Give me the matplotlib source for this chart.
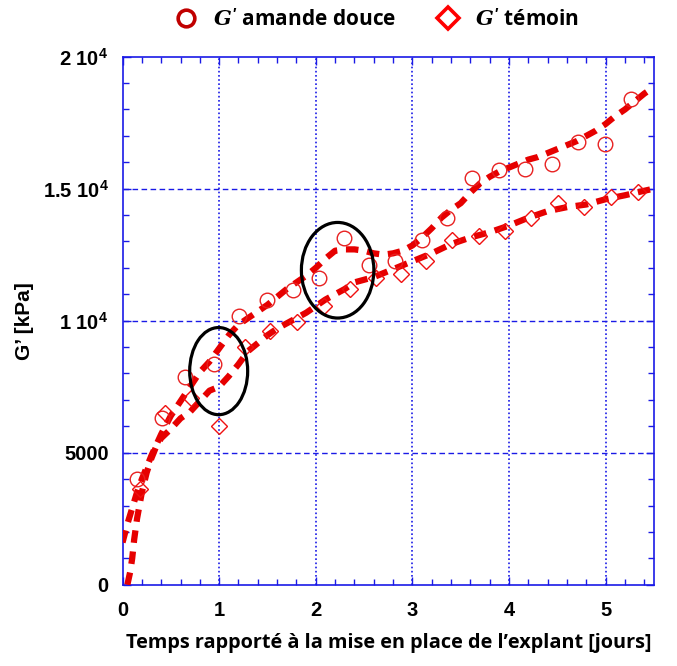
import numpy as np
import matplotlib
matplotlib.use('Agg')
import matplotlib.pyplot as plt
from matplotlib.lines import Line2D
from matplotlib.patches import Ellipse
from matplotlib.ticker import MultipleLocator, FixedLocator

plt.rcParams['mathtext.fontset'] = 'custom'
plt.rcParams['mathtext.it'] = 'DejaVu Serif:italic:bold'
plt.rcParams['mathtext.bf'] = 'Liberation Sans:bold'
plt.rcParams['mathtext.rm'] = 'Liberation Sans:bold'

# measured points, G' amande douce (circles)
amande_t = [0.15, 0.41, 0.65, 0.95, 1.21, 1.49, 1.76, 2.03, 2.29, 2.55, 2.82,
            3.10, 3.36, 3.62, 3.90, 4.17, 4.44, 4.71, 4.99, 5.26]
amande_g = [4000, 6330, 7850, 8360, 10190, 10770, 11170, 11600, 13130, 12120, 12250,
            13040, 13890, 15400, 15690, 15750, 15950, 16770, 16700, 18410]

# measured points, G' temoin (diamonds)
temoin_t = [0.18, 0.44, 0.71, 1.00, 1.27, 1.53, 1.81, 2.08, 2.35, 2.62, 2.88,
            3.14, 3.41, 3.69, 3.96, 4.23, 4.51, 4.78, 5.06, 5.33]
temoin_g = [3640, 6500, 7070, 6020, 9000, 9620, 9940, 10540, 11210, 11620, 11770,
            12270, 13040, 13190, 13410, 13890, 14460, 14310, 14690, 14860]

# fitted curves
fit_a_t = [0.0, 0.05, 0.1, 0.15, 0.2, 0.3, 0.4, 0.5, 0.6, 0.7, 0.8, 0.9, 1.0,
           1.1, 1.2, 1.3, 1.4, 1.5, 1.6, 1.7, 1.8, 1.9, 2.0, 2.1, 2.2, 2.3, 2.4,
           2.5, 2.6, 2.7, 2.8, 2.9, 3.0, 3.1, 3.2, 3.3, 3.4, 3.5, 3.6, 3.7, 3.8,
           3.9, 4.0, 4.1, 4.2, 4.3, 4.4, 4.5, 4.6, 4.7, 4.8, 4.9, 5.0, 5.1, 5.2,
           5.3, 5.4, 5.5]
fit_a_g = [1600, 2300, 2900, 3500, 4000, 4900, 5700, 6400, 6950, 7500, 8050, 8450, 8950,
           9450, 9850, 10100, 10350, 10600, 10900, 11200, 11450, 11700, 12000, 12350, 12650,
           12700, 12700, 12650, 12550, 12500, 12550, 12650, 12850, 13150, 13500, 13900,
           14200, 14450, 14850, 15200, 15450, 15650, 15800, 15950, 16100, 16200, 16350,
           16500, 16650, 16800, 17000, 17200, 17450, 17750, 18000, 18300, 18600, 18850]

fit_t_t = [0.05, 0.08, 0.1, 0.12, 0.15, 0.2, 0.25, 0.3, 0.35, 0.4, 0.5, 0.6, 0.7,
           0.8, 0.9, 1.0, 1.1, 1.2, 1.3, 1.4, 1.5, 1.6, 1.7, 1.8, 1.9, 2.0, 2.1,
           2.2, 2.3, 2.4, 2.5, 2.6, 2.7, 2.8, 2.9, 3.0, 3.2, 3.4, 3.6, 3.8, 4.0,
           4.2, 4.4, 4.6, 4.8, 5.0, 5.2, 5.4, 5.5]
fit_t_g = [0, 500, 1000, 1700, 2500, 3500, 4250, 4800, 5250, 5550, 5900, 6300, 6550,
           6950, 7350, 7500, 7900, 8350, 8850, 9150, 9450, 9700, 9900, 10100, 10300,
           10550, 10800, 11000, 11200, 11450, 11550, 11650, 11800, 11950, 12100, 12250,
           12550, 12900, 13150, 13350, 13600, 13900, 14150, 14300, 14400, 14600, 14750,
           14920, 15000]

ytick_vals = [0, 5000, 10000, 15000, 20000]
ytick_labels = ['0', '5000', r'1 10$^{\mathbf{4}}$', r'1.5 10$^{\mathbf{4}}$', r'2 10$^{\mathbf{4}}$']

blue = '#1a1ae6'
red = '#e60000'

fig = plt.figure(figsize=(6.77, 6.66), dpi=100)
ax = fig.add_axes([0.181, 0.122, 0.785, 0.793])

ax.plot(fit_a_t, fit_a_g, color=red, lw=4.5, ls=(0, (2.0, 1.4)), zorder=3)
ax.plot(fit_t_t, fit_t_g, color=red, lw=4.5, ls=(0, (2.0, 1.4)), zorder=3)
ax.plot(amande_t, amande_g, 'o', ms=10.5, mfc='none', mec='#e82020', mew=1.0, zorder=4)
ax.plot(temoin_t, temoin_g, 'D', ms=8, mfc='none', mec='#f01010', mew=1.0, zorder=4)

ax.add_patch(Ellipse((0.995, 8090), 0.60, 3300, fill=False, ec='black', lw=2.3, zorder=5))
ax.add_patch(Ellipse((2.226, 11910), 0.75, 3620, fill=False, ec='black', lw=2.3, zorder=5))

ax.set_xlim(0, 5.5)
ax.set_ylim(0, 20000)
ax.xaxis.set_major_locator(FixedLocator([0, 1, 2, 3, 4, 5]))
ax.xaxis.set_minor_locator(MultipleLocator(0.2))
ax.yaxis.set_major_locator(FixedLocator(ytick_vals))
ax.yaxis.set_minor_locator(MultipleLocator(1000))
ax.set_yticklabels(ytick_labels)

for sp in ax.spines.values():
    sp.set_color(blue)
    sp.set_linewidth(1.2)

ax.tick_params(which='both', direction='in', top=True, right=True, color=blue)
ax.tick_params(which='major', length=6, width=1.0)
ax.tick_params(which='minor', length=4, width=1.0)
ax.tick_params(axis='x', which='major', pad=12)
ax.tick_params(axis='y', which='major', pad=10)
for lab in ax.get_xticklabels() + ax.get_yticklabels():
    lab.set_fontfamily('Liberation Sans')
    lab.set_fontweight('bold')
    lab.set_fontsize(14.5)

for xv in [1, 2, 3, 4, 5]:
    ax.axvline(xv, color=blue, lw=1.2, ls=(0, (1, 1.5)), zorder=1)
for yv in [5000, 10000, 15000]:
    ax.axhline(yv, color=blue, lw=1.0, ls=(0, (4, 2.5)), zorder=1)

ax.set_xlabel('Temps rapporté à la mise en place de l\u2019explant [jours]',
              fontfamily='Open Sans', fontweight='bold', fontsize=14.3, labelpad=9)
ax.set_ylabel('G\u2019 [kPa]', fontfamily='Liberation Sans', fontweight='bold',
              fontsize=15, labelpad=6)

handles = [
    Line2D([], [], ls='none', marker='o', ms=12, mfc='none', mec='#c00000', mew=2.6),
    Line2D([], [], ls='none', marker='D', ms=11, mfc='none', mec='#ff0000', mew=2.6),
]
labels = [r"$G^{\prime}$ amande douce", r"$G^{\prime}$ témoin"]
fig.legend(handles, labels, loc='upper center', bbox_to_anchor=(0.55, 1.015), ncol=2,
           frameon=False, prop={'family': 'Open Sans', 'weight': 'bold', 'size': 15},
           columnspacing=1.5, handletextpad=0.3)

fig.savefig('out.png', dpi=100)
